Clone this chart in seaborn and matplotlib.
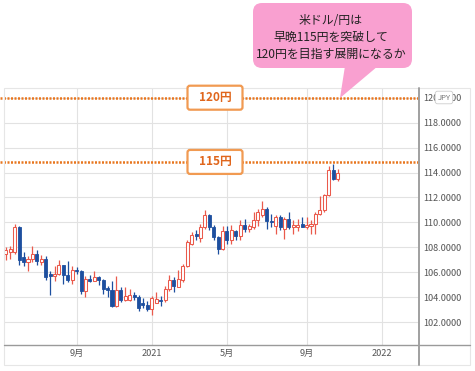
import pandas as pd
import numpy as np
import matplotlib.pyplot as plt
import matplotlib.dates as mdates
from matplotlib.patches import FancyBboxPatch, Polygon, Rectangle
from matplotlib.lines import Line2D
import seaborn as sns

# weekly USD/JPY candles, week starting 2020-05-18
week_start = "2020-05-18"
n_weeks = 76
opens = [107.45, 107.6, 107.6, 109.6, 107.2, 106.8, 107.1, 107.5, 106.85, 107.05,
         105.9, 105.7, 105.9, 106.6, 105.8, 105.4, 106.2, 106.1, 104.5, 105.5,
         105.3, 105.6, 105.35, 104.75, 104.6, 103.3, 104.6, 103.8, 103.8, 104.2,
         104.0, 103.5, 103.4, 103.05, 103.5, 103.8, 103.75, 104.7, 105.4, 104.8,
         105.4, 106.5, 108.3, 109.05, 108.75, 109.6, 110.6, 109.6, 108.8, 107.9,
         109.3, 108.6, 109.3, 108.9, 109.8, 109.5, 109.6, 110.2, 110.6, 111.05,
         110.15, 109.7, 110.45, 109.5, 110.25, 109.6, 109.65, 109.85, 109.65, 109.7,
         109.9, 110.7, 111.0, 112.2, 114.2, 113.5]
highs = [108.0, 108.1, 109.85, 109.7, 107.6, 107.3, 108.1, 107.8, 107.4, 107.3,
         106.1, 106.5, 107.0, 106.6, 106.9, 106.5, 106.4, 106.2, 105.7, 105.8,
         106.1, 105.7, 105.5, 104.9, 105.3, 105.7, 104.8, 104.8, 104.7, 104.4,
         104.2, 103.9, 103.7, 104.1, 104.4, 104.1, 104.9, 105.8, 105.6, 106.2,
         106.7, 108.6, 109.2, 109.4, 109.9, 110.97, 110.7, 109.8, 108.9, 109.7,
         109.7, 109.8, 109.4, 110.2, 110.3, 109.9, 110.8, 111.1, 111.7, 111.2,
         110.7, 110.6, 110.6, 110.4, 110.8, 110.2, 110.3, 110.4, 110.4, 110.2,
         110.8, 112.1, 112.3, 114.5, 114.7, 114.3]
lows = [107.0, 107.1, 107.5, 106.6, 106.5, 106.1, 106.8, 106.6, 106.6, 105.4,
        104.2, 105.3, 105.8, 105.1, 105.2, 105.1, 105.9, 104.3, 104.0, 105.2,
        105.3, 105.0, 104.3, 104.0, 103.2, 103.2, 103.6, 103.7, 103.7, 103.8,
        102.9, 103.1, 102.9, 102.55, 103.5, 103.3, 103.6, 104.5, 104.4, 104.8,
        105.2, 106.4, 108.2, 108.6, 108.4, 109.5, 109.4, 108.6, 107.5, 107.8,
        108.3, 108.3, 108.6, 108.6, 109.2, 109.2, 109.5, 109.7, 110.4, 109.5,
        109.6, 109.1, 109.4, 108.7, 109.5, 109.1, 109.3, 109.6, 109.5, 109.1,
        109.1, 110.6, 110.8, 112.1, 113.4, 113.3]
closes = [107.75, 107.85, 109.6, 107.0, 106.8, 107.1, 107.5, 106.9, 107.05, 105.6,
          105.7, 105.9, 106.6, 105.8, 105.4, 106.2, 106.1, 104.5, 105.5, 105.3,
          105.6, 105.35, 104.7, 104.6, 103.3, 104.6, 103.8, 104.1, 104.2, 104.0,
          103.1, 103.35, 103.05, 103.9, 103.85, 103.7, 104.7, 105.4, 104.9, 105.45,
          106.5, 108.4, 109.0, 108.9, 109.65, 110.6, 109.6, 108.8, 107.9, 109.3,
          108.6, 109.4, 108.95, 109.8, 109.5, 109.7, 110.2, 110.8, 111.05, 110.1,
          110.05, 110.45, 109.65, 110.25, 109.6, 109.8, 109.8, 109.6, 109.8, 109.9,
          110.7, 111.0, 112.2, 114.2, 113.5, 114.0]

tick_dates = ["2020-09-07", "2021-01-04", "2021-05-03", "2021-09-06", "2022-01-03"]
tick_labels = ["9月", "2021", "5月", "9月", "2022"]
y_ticks = [102, 104, 106, 108, 110, 112, 114, 116, 118, 120]
levels = [120, 114.85]
level_labels = ["120円", "115円"]
bubble_text = "米ドル/円は\n早晩115円を突破して\n120円を目指す展開になるか"

UP = "#ea5a4c"
DOWN = "#1d4f9f"
ORANGE = "#e8761f"

sns.set_style("white")
plt.rcParams['font.family'] = ['Noto Sans CJK JP', 'DejaVu Sans']

W, H = 475, 371
fig = plt.figure(figsize=(W / 100, H / 100), dpi=100)
inch = fig.dpi_scale_trans


def frect(x0, y0, x1, y1):
    # pixel box (top-left origin) -> inches
    return (x0 / 100, (H - y1) / 100), (x1 - x0) / 100, (y1 - y0) / 100


ax = fig.add_axes([4 / W, 1 - 345 / H, 415 / W, (345 - 88) / H])

df = pd.DataFrame({
    "date": pd.date_range(week_start, periods=n_weeks, freq="W-MON"),
    "open": opens, "high": highs, "low": lows, "close": closes,
})
df["up"] = df["close"] >= df["open"]
df["bottom"] = df[["open", "close"]].min(axis=1)
df["height"] = (df["close"] - df["open"]).abs().clip(lower=0.05)

up = df[df["up"]]
dn = df[~df["up"]]
ax.vlines(up["date"], up["low"], up["high"], color=UP, lw=0.9, zorder=2)
ax.vlines(dn["date"], dn["low"], dn["high"], color=DOWN, lw=0.9, zorder=2)
ax.bar(up["date"], up["height"], bottom=up["bottom"], width=4.8,
       facecolor="white", edgecolor=UP, lw=0.75, zorder=3)
ax.bar(dn["date"], dn["height"], bottom=dn["bottom"], width=4.8,
       facecolor=DOWN, edgecolor=DOWN, lw=0.6, zorder=3)

ax.set_xlim(pd.Timestamp("2020-05-15"), pd.Timestamp("2022-03-03"))
ax.set_ylim(100.17, 120.78)
ax.set_xticks(pd.to_datetime(tick_dates))
ax.set_xticklabels(tick_labels)
ax.set_yticks(y_ticks)
ax.set_yticklabels([f"{v:.4f}" for v in y_ticks])
ax.yaxis.tick_right()
ax.tick_params(length=0, labelsize=6.6, labelcolor="#555555", pad=3)
ax.grid(True, color="#e2e2e2", lw=0.8)
ax.set_axisbelow(True)
for s in ax.spines.values():
    s.set_visible(False)

# outer frame and axis lines
xy, w, h = frect(4, 88, 470, 365)
fig.add_artist(Rectangle(xy, w, h, transform=inch, fill=False,
                         edgecolor="#e6e6e6", lw=0.8))
fig.add_artist(Line2D([4 / 100, 470 / 100], [(H - 345) / 100] * 2,
                      transform=inch, color="#9a9a9a", lw=1.0))
fig.add_artist(Line2D([419 / 100] * 2, [(H - 88) / 100, (H - 365) / 100],
                      transform=inch, color="#a0a0a0", lw=1.4))

# JPY tag sitting over the 120 label, as in the source screenshot
fig.text(444 / W, 1 - 97.5 / H, "JPY", fontsize=5.5, color="#777777",
         ha="center", va="center",
         bbox=dict(boxstyle="round,pad=0.3", fc="white", ec="#cccccc", lw=0.6))

# orange dotted levels with labels
for lv, lab in zip(levels, level_labels):
    ax.axhline(lv, xmin=-4 / 415, xmax=1, clip_on=False, color=ORANGE,
               lw=1.8, ls=(0, (0.8, 0.6)), zorder=4)
    yp = 97.7 + (120 - lv) * 12.47
    xy, w, h = frect(187.5, yp - 12, 242.5, yp + 12)
    fig.add_artist(FancyBboxPatch(xy, w, h, transform=inch,
                                  boxstyle="round,pad=0,rounding_size=0.025",
                                  fc="white", ec="#f19a52", lw=1.6))
    fig.text(215 / W, 1 - yp / H, lab, fontsize=8.5, color="#e0661c",
             weight="bold", ha="center", va="center")

# speech bubble
PINK = "#f9a0d0"
xy, w, h = frect(253, 3, 412, 68)
fig.add_artist(FancyBboxPatch(xy, w, h, transform=inch,
                              boxstyle="round,pad=0,rounding_size=0.09",
                              fc=PINK, ec="none"))
tail = [(345 / 100, (H - 66) / 100), (378 / 100, (H - 66) / 100),
        (340 / 100, (H - 98) / 100)]
fig.add_artist(Polygon(tail, closed=True, transform=inch, fc=PINK, ec="none"))
fig.text(331 / W, 1 - 37.5 / H, bubble_text, fontsize=8.6, color="#222222",
         ha="center", va="center", linespacing=1.4)

fig.savefig("out.png", dpi=100)
